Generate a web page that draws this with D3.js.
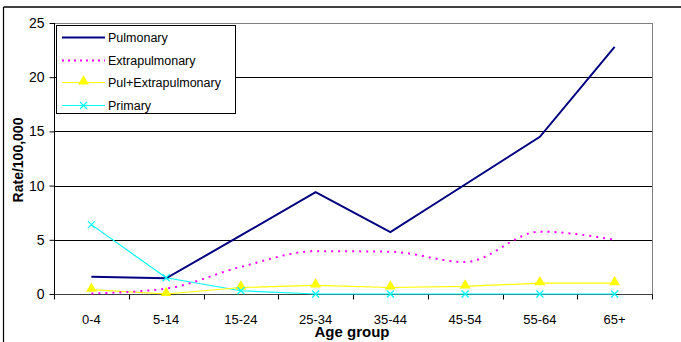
<!DOCTYPE html>
<html><head><meta charset="utf-8">
<script src="https://cdn.jsdelivr.net/npm/d3@7"></script>
<style>body{margin:0;background:#fff}svg{display:block}text{font-family:"Liberation Sans",Arial,sans-serif}</style>
</head><body><svg id="c" width="681" height="342"></svg>
<script>
const categories = ["0-4","5-14","15-24","25-34","35-44","45-54","55-64","65+"];
const pulmonary = [1.6,1.45,5.4,9.4,5.7,10.1,14.5,22.8];
const extrapulmonary = [0.05,0.5,2.5,3.95,3.9,2.95,5.75,5.0];
const pulExtra = [0.4,0.0,0.6,0.8,0.6,0.7,1.0,1.0];
const primary = [6.4,1.5,0.3,0.0,0.0,0.0,0.0,0.0];
const yTicks = [0,5,10,15,20,25];
const seriesNames = ["Pulmonary","Extrapulmonary","Pul+Extrapulmonary","Primary"];

const svg = d3.select("#c");
const L=54, R=652, T=23, B=294;
const x = d3.scalePoint().domain(categories).range([L,R]).padding(0.5);
const y = d3.scaleLinear().domain([0,25]).range([B,T]);

// outer border
svg.append("line").attr("x1",3.5).attr("x2",681).attr("y1",7).attr("y2",7).attr("stroke","#000").attr("stroke-width",1.5);
svg.append("line").attr("x1",3.5).attr("x2",3.5).attr("y1",7).attr("y2",342).attr("stroke","#000").attr("stroke-width",1.2);

// gridlines
svg.append("g").selectAll("line").data(yTicks.filter(d=>d>0)).join("line")
  .attr("x1",L).attr("x2",R).attr("y1",d=>Math.round(y(d))+0.5).attr("y2",d=>Math.round(y(d))+0.5)
  .attr("stroke",d=>d===25?"#808080":"#000").attr("stroke-width",1);
// right border
svg.append("line").attr("x1",R+0.5).attr("x2",R+0.5).attr("y1",T).attr("y2",B).attr("stroke","#808080");

// y axis
const ya = svg.append("g").attr("transform",`translate(${L+0.5},0)`)
  .call(d3.axisLeft(y).tickValues(yTicks).tickSize(5).tickPadding(5).tickFormat(d3.format("d")));
ya.select(".domain").attr("stroke","#000").attr("d",`M0,${T}V${B}`);
ya.selectAll(".tick line").attr("stroke","#000");
ya.selectAll(".tick text").attr("font-size",14).attr("fill","#000").attr("font-family","Liberation Sans, Arial, sans-serif");

// x axis with ticks between categories
const bw = x.step();
const xa = svg.append("g").attr("transform",`translate(0,${B+0.5})`);
xa.append("line").attr("x1",L).attr("x2",R+1).attr("y1",0).attr("y2",0).attr("stroke","#404040");
xa.selectAll("line.tk").data(d3.range(categories.length+1)).join("line").attr("class","tk")
  .attr("x1",i=>Math.round(L+i*bw)+0.5).attr("x2",i=>Math.round(L+i*bw)+0.5).attr("y1",0).attr("y2",5).attr("stroke","#000");
xa.selectAll("text").data(categories).join("text")
  .attr("x",d=>x(d)).attr("y",29).attr("text-anchor","middle").attr("font-size",13).text(d=>d);

// axis titles
svg.append("text").attr("transform","translate(23,160) rotate(-90)").attr("text-anchor","middle")
  .attr("font-size",14).attr("font-weight","bold").text("Rate/100,000");
svg.append("text").attr("x",352).attr("y",337).attr("text-anchor","middle")
  .attr("font-size",15).attr("font-weight","bold").text("Age group");

const pts = arr => arr.map((v,i)=>[x(categories[i]), y(v)]);
const lin = d3.line();
const smooth = d3.line().curve(d3.curveMonotoneX);

// primary
svg.append("path").attr("d",lin(pts(primary))).attr("fill","none").attr("stroke","#00FFFF").attr("stroke-width",1.2);
// pul+extra
svg.append("path").attr("d",lin(pts(pulExtra))).attr("fill","none").attr("stroke","#FFFF00").attr("stroke-width",1.2);
// extrapulmonary
svg.append("path").attr("d",smooth(pts(extrapulmonary))).attr("fill","none").attr("stroke","#FF00FF").attr("stroke-width",2).attr("stroke-dasharray","2,5");
// pulmonary
svg.append("path").attr("d",lin(pts(pulmonary))).attr("fill","none").attr("stroke","#000080").attr("stroke-width",2);

// markers
const tri = d3.symbol().type(d3.symbolTriangle).size(50);
svg.append("g").selectAll("path").data(pts(pulExtra)).join("path")
  .attr("transform",d=>`translate(${d[0]},${d[1]-1})`).attr("d",tri()).attr("fill","#FFFF00");
const xs = 3.5;
svg.append("g").selectAll("path").data(pts(primary)).join("path")
  .attr("d",d=>`M${d[0]-xs},${d[1]-xs}L${d[0]+xs},${d[1]+xs}M${d[0]-xs},${d[1]+xs}L${d[0]+xs},${d[1]-xs}`)
  .attr("stroke","#00FFFF").attr("stroke-width",1.2);

// legend
const lg = svg.append("g");
lg.append("rect").attr("x",56.5).attr("y",25.5).attr("width",179).attr("height",88).attr("fill","#fff").attr("stroke","#000");
const ly = [37,60,82,105];
const styles = [
  {c:"#000080",w:2,dash:null,m:null},
  {c:"#FF00FF",w:2,dash:"2,4",m:null},
  {c:"#FFFF00",w:1.2,dash:null,m:"tri"},
  {c:"#00FFFF",w:1.2,dash:null,m:"x"}
];
seriesNames.forEach((n,i)=>{
  const s=styles[i], yy=ly[i]+0.5;
  lg.append("line").attr("x1",62).attr("x2",105).attr("y1",yy).attr("y2",yy).attr("stroke",s.c).attr("stroke-width",s.w).attr("stroke-dasharray",s.dash);
  if(s.m==="tri") lg.append("path").attr("transform",`translate(83.5,${yy-1})`).attr("d",tri()).attr("fill",s.c);
  if(s.m==="x") lg.append("path").attr("d",`M${83.5-xs},${yy-xs}L${83.5+xs},${yy+xs}M${83.5-xs},${yy+xs}L${83.5+xs},${yy-xs}`).attr("stroke",s.c).attr("stroke-width",1.2);
  lg.append("text").attr("x",108).attr("y",ly[i]+4.5).attr("font-size",12.5).text(n);
});
</script></body></html>
